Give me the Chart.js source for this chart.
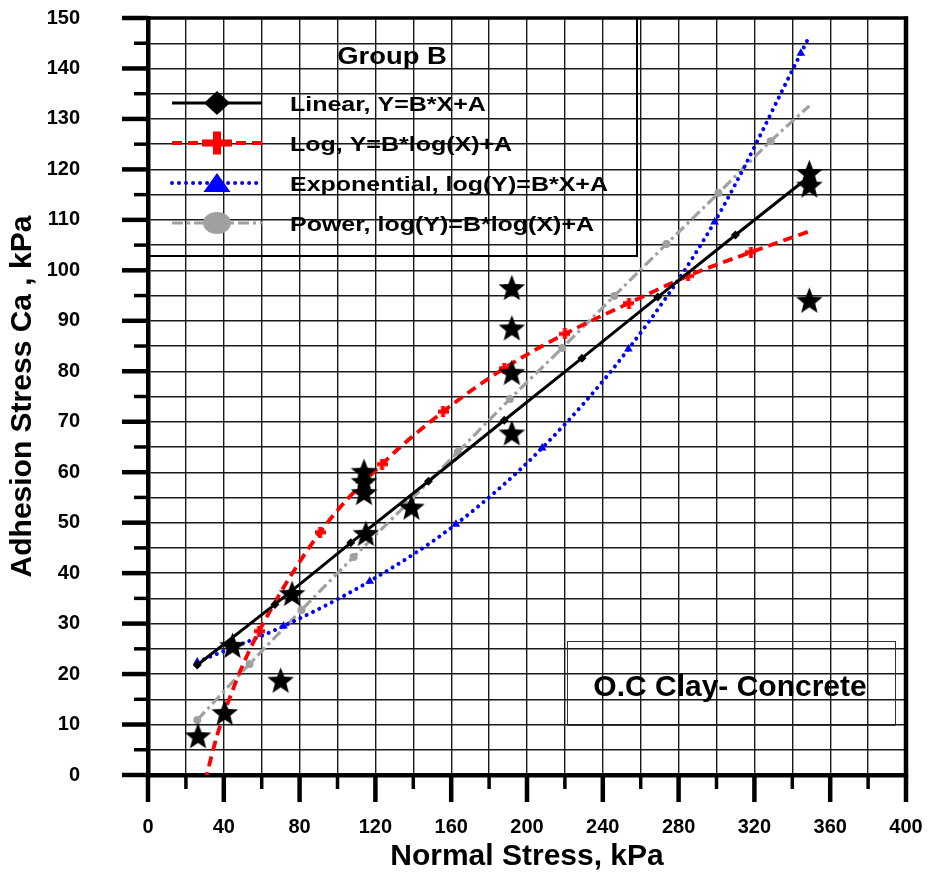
<!DOCTYPE html>
<html>
<head>
<meta charset="utf-8">
<script src="https://cdn.jsdelivr.net/npm/chart.js@4.4.0/dist/chart.umd.min.js"></script>
<style>
  html, body { margin: 0; padding: 0; background: #fff; }
  canvas { display: block; }
</style>
</head>
<body>
<canvas id="c" width="929" height="875"></canvas>
<script>
// ---------- data ----------
const legendTitle = 'Group B';
const noteText = 'O.C Clay- Concrete';
const xTitle = 'Normal Stress, kPa';
const yTitle = 'Adhesion Stress Ca , kPa';

// measured points (stars)
const measX = [26.4, 40.5, 44.6, 70, 76, 114, 114, 114, 115, 139, 192, 192, 192, 192, 349, 349, 349];
const measY = [7.8, 12.4, 25.7, 18.8, 36, 60.2, 58.2, 56, 47.9, 53.1, 96.6, 88.6, 79.8, 67.8, 119.4, 116.9, 94.1];

// Linear fit
const linLabel = 'Linear, Y=B*X+A';
const linX = [26, 67, 107, 148, 188, 229, 269, 310, 349];
const linY = [21.8, 33.8, 46, 58.2, 70.3, 82.6, 94.7, 107, 118.6];
const linMark = [1, 1, 1, 1, 1, 1, 1, 1, 1];

// Log fit
const logLabel = 'Log, Y=B*log(X)+A';
const logX = [26, 37, 47.5, 58.6, 90.8, 123.5, 155.7, 188, 220, 253.8, 285, 318.2, 349.5];
const logY = [-7.5, 8.5, 19.5, 28.5, 48.1, 61.6, 72, 80.6, 87.4, 93.5, 98.9, 103.6, 107.8];
const logMark = [1, 0, 0, 1, 1, 1, 1, 1, 1, 1, 1, 1, 0];

// Exponential fit
const expLabel = 'Exponential, log(Y)=B*X+A';
const expX = [26, 71.5, 117, 162.5, 208, 253.5, 299, 344.5, 348];
const expY = [22.4, 29.5, 38.4, 49.7, 64.8, 84.4, 109.6, 143, 145.6];
const expMark = [1, 1, 1, 1, 1, 1, 1, 1, 0];

// Power fit
const powLabel = 'Power, log(Y)=B*log(X)+A';
const powX = [26, 53.6, 81, 108.5, 136, 163.5, 191, 218.5, 246, 273.6, 301, 328.6, 349];
const powY = [10.9, 22, 32.7, 43.2, 53.5, 64, 74.5, 84.6, 94.9, 105.2, 115.3, 125.6, 132.6];
const powMark = [1, 1, 1, 1, 1, 1, 1, 1, 1, 1, 1, 1, 0];

// axis ranges / ticks
const xMin = 0, xMax = 400, xStep = 20, xLabelStep = 40;
const yMin = 0, yMax = 150, yStep = 5, yLabelStep = 10;

// ---------- helpers ----------
const pts = (xs, ys) => xs.map((x, i) => ({ x, y: ys[i] }));

function makeStar(size) {
  const c = document.createElement('canvas');
  c.width = size; c.height = size;
  const g = c.getContext('2d');
  const cx = size / 2, cy = size / 2 + 1.3, R = size / 2 - 0.5, r = R * 0.43;
  g.fillStyle = '#000';
  g.beginPath();
  for (let i = 0; i < 10; i++) {
    const a = -Math.PI / 2 + i * Math.PI / 5;
    const rr = i % 2 ? r : R;
    g.lineTo(cx + rr * Math.cos(a), cy + rr * Math.sin(a));
  }
  g.closePath(); g.fill();
  return c;
}
function makePlus(size, arm, color) {
  const c = document.createElement('canvas');
  c.width = size; c.height = size;
  const g = c.getContext('2d');
  g.fillStyle = color;
  g.fillRect((size - arm) / 2, 0, arm, size);
  g.fillRect(0, (size - arm) / 2, size, arm);
  return c;
}
const starImg = makeStar(29);
const plusImg = makePlus(11, 4, '#ff0000');

const FONT = '"Liberation Sans", Arial, Helvetica, sans-serif';

// ---------- plugin: frame, ticks, legend, note box ----------
const decorPlugin = {
  id: 'decor',
  beforeDatasetsDraw(chart) {
    const { ctx, chartArea: a } = chart;
    const xs = chart.scales.x, ys = chart.scales.y;
    ctx.save();
    ctx.strokeStyle = '#000';
    ctx.lineCap = 'butt';
    // top and right frame
    ctx.lineWidth = 3.5;
    ctx.beginPath(); ctx.moveTo(a.left - 2, a.top); ctx.lineTo(a.right + 2, a.top); ctx.stroke();
    ctx.lineWidth = 4.5;
    ctx.beginPath(); ctx.moveTo(a.right, a.top - 1.5); ctx.lineTo(a.right, a.bottom + 2); ctx.stroke();
    // x tick marks
    xs.ticks.forEach(t => {
      const px = xs.getPixelForValue(t.value);
      const major = Math.round(t.value) % xLabelStep === 0;
      ctx.lineWidth = major ? 4.5 : 3.5;
      ctx.beginPath(); ctx.moveTo(px, a.bottom); ctx.lineTo(px, a.bottom + (major ? 27 : 14)); ctx.stroke();
    });
    // y tick marks
    ys.ticks.forEach(t => {
      const py = ys.getPixelForValue(t.value);
      const major = Math.round(t.value) % yLabelStep === 0;
      ctx.lineWidth = major ? 4.5 : 3.5;
      ctx.beginPath(); ctx.moveTo(a.left, py); ctx.lineTo(a.left - (major ? 26 : 14), py); ctx.stroke();
    });
    ctx.restore();
  },
  afterDraw(chart) {
    const { ctx } = chart;
    ctx.save();
    // legend box
    ctx.strokeStyle = '#000';
    ctx.lineWidth = 2;
    ctx.beginPath();
    ctx.moveTo(148, 256); ctx.lineTo(637, 256); ctx.lineTo(637, 18);
    ctx.stroke();
    // legend title
    ctx.fillStyle = '#000';
    ctx.font = 'bold 23px ' + FONT;
    ctx.textBaseline = 'alphabetic';
    ctx.save();
    ctx.translate(392, 63.5); ctx.scale(1.19, 1);
    ctx.textAlign = 'center';
    ctx.fillText(legendTitle, 0, 0);
    ctx.restore();

    const rows = [103, 143, 183, 223];
    const sx0 = 172, sx1 = 262, mx = 217, tx = 290;
    const fits = chart.data.datasets.filter(d => d.legendKind);
    fits.forEach((d, i) => {
      const y = rows[i];
      ctx.save();
      ctx.strokeStyle = d.borderColor;
      ctx.lineWidth = d.borderWidth;
      ctx.setLineDash(d.borderDash || []);
      ctx.lineCap = d.borderCapStyle || 'butt';
      ctx.beginPath(); ctx.moveTo(sx0, y); ctx.lineTo(sx1, y); ctx.stroke();
      ctx.setLineDash([]);
      ctx.fillStyle = d.borderColor;
      ctx.beginPath();
      if (d.legendKind === 'diamond') {
        ctx.moveTo(mx - 13, y); ctx.lineTo(mx, y - 12); ctx.lineTo(mx + 13, y); ctx.lineTo(mx, y + 12); ctx.closePath(); ctx.fill();
      } else if (d.legendKind === 'plus') {
        ctx.fillRect(mx - 15, y - 3.5, 30, 7);
        ctx.fillRect(mx - 4, y - 11.5, 8, 23);
      } else if (d.legendKind === 'triangle') {
        ctx.moveTo(mx, y - 10); ctx.lineTo(mx + 13.5, y + 9); ctx.lineTo(mx - 13.5, y + 9); ctx.closePath(); ctx.fill();
      } else {
        ctx.ellipse(mx, y, 14, 11, 0, 0, Math.PI * 2); ctx.fill();
      }
      ctx.restore();
      ctx.save();
      ctx.fillStyle = '#000';
      ctx.font = 'bold 21px ' + FONT;
      ctx.textBaseline = 'alphabetic';
      ctx.translate(tx, y + 7.5); ctx.scale(1.19, 1);
      ctx.fillText(d.label, 0, 0);
      ctx.restore();
    });

    // note box
    ctx.strokeStyle = '#333';
    ctx.lineWidth = 1;
    ctx.strokeRect(567.5, 641.5, 328, 84);
    ctx.fillStyle = '#000';
    ctx.font = 'bold 30px ' + FONT;
    ctx.textAlign = 'center';
    ctx.textBaseline = 'alphabetic';
    ctx.fillText(noteText, 730, 696);
    ctx.restore();
  }
};

const tickFont = { family: FONT, size: 20, weight: 'bold' };
const titleFont = { family: FONT, size: 30, weight: 'bold' };

new Chart(document.getElementById('c'), {
  type: 'scatter',
  data: {
    datasets: [
      {
        label: 'Measured',
        data: pts(measX, measY),
        showLine: false,
        pointStyle: starImg,
        pointRadius: 13,
        order: 0
      },
      {
        label: linLabel, legendKind: 'diamond',
        data: pts(linX, linY),
        showLine: true,
        borderColor: '#000000', backgroundColor: '#000000',
        borderWidth: 3,
        pointStyle: 'rectRot',
        pointRadius: linMark.map(m => m ? 4.5 : 0),
        pointBorderWidth: 0,
        order: 1
      },
      {
        label: logLabel, legendKind: 'plus',
        data: pts(logX, logY),
        showLine: true,
        clip: 0,
        cubicInterpolationMode: 'monotone',
        borderColor: '#ff0000', backgroundColor: '#ff0000',
        borderWidth: 3.8,
        borderDash: [10, 6],
        pointStyle: plusImg,
        pointRadius: logMark.map(m => m ? 5 : 0),
        order: 2
      },
      {
        label: expLabel, legendKind: 'triangle',
        data: pts(expX, expY),
        showLine: true,
        cubicInterpolationMode: 'monotone',
        borderColor: '#0000ff', backgroundColor: '#0000ff',
        borderWidth: 4,
        borderDash: [0.01, 7],
        borderCapStyle: 'round',
        pointStyle: 'triangle',
        pointRadius: expMark.map(m => m ? 5 : 0),
        pointBorderWidth: 0,
        order: 3
      },
      {
        label: powLabel, legendKind: 'circle',
        data: pts(powX, powY),
        showLine: true,
        cubicInterpolationMode: 'monotone',
        borderColor: '#a0a0a0', backgroundColor: '#a0a0a0',
        borderWidth: 3.2,
        borderDash: [11, 4, 3, 4],
        pointStyle: 'circle',
        pointRadius: powMark.map(m => m ? 4 : 0),
        pointBorderWidth: 0,
        order: 4
      }
    ]
  },
  options: {
    responsive: false,
    animation: false,
    layout: { padding: { left: 0, top: 18, right: 23, bottom: 0 } },
    plugins: { legend: { display: false }, tooltip: { enabled: false } },
    scales: {
      x: {
        type: 'linear', min: xMin, max: xMax,
        afterFit(s) { s.height = 100; s.paddingLeft = 0; s.paddingRight = 0; },
        ticks: {
          stepSize: xStep, autoSkip: false, maxRotation: 0, padding: 40,
          color: '#000', font: tickFont,
          callback: v => (Math.round(v) % xLabelStep === 0 ? String(v) : '')
        },
        grid: { color: '#1a1a1a', lineWidth: 1.4, drawTicks: false },
        border: { display: true, color: '#000', width: 4.5 },
        title: { display: true, text: xTitle, color: '#000', font: titleFont, padding: { top: 0, bottom: 0 } }
      },
      y: {
        type: 'linear', min: yMin, max: yMax,
        afterFit(s) { s.width = 148; s.paddingTop = 0; s.paddingBottom = 0; },
        ticks: {
          stepSize: yStep, autoSkip: false, padding: 68,
          color: '#000', font: tickFont,
          callback: v => (Math.round(v) % yLabelStep === 0 ? String(v) : '')
        },
        grid: { color: '#1a1a1a', lineWidth: 1.4, drawTicks: false },
        border: { display: true, color: '#000', width: 4.5 },
        title: { display: true, text: yTitle, color: '#000', font: titleFont, padding: { top: 5, bottom: 0 } }
      }
    }
  },
  plugins: [decorPlugin]
});
</script>
</body>
</html>
